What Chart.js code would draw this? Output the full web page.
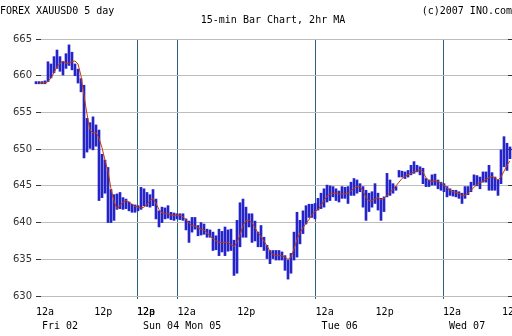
<!DOCTYPE html>
<html>
<head>
<meta charset="utf-8">
<script src="https://cdn.jsdelivr.net/npm/chart.js@4.4.1/dist/chart.umd.min.js"></script>
<style>
  html, body { margin: 0; padding: 0; background: #fff; }
  canvas { display: block; background: #fff; }
</style>
</head>
<body>
<canvas id="myChart" width="512" height="336"></canvas>
<script>
// one slot = three 15-min bars merged into a single high/low range
const lows = [
  658.9, 658.9, 658.9, 658.9, 659.2, 659.7, 660.4, 661.0, 660.6, 660.1,
  661.0, 661.4, 660.8, 660.0, 659.0, 657.8, 648.8, 649.6, 650.1, 649.9,
  650.4, 643.0, 643.4, 644.0, 640.0, 640.0, 640.3, 641.8, 641.9, 641.8,
  641.9, 641.6, 641.4, 641.4, 641.6, 641.8, 642.3, 642.2, 642.1, 642.3,
  640.5, 639.4, 640.0, 640.5, 640.6, 640.4, 640.3, 640.5, 640.4, 640.3,
  639.0, 637.3, 638.7, 639.1, 638.2, 638.3, 638.4, 638.0, 638.0, 636.2,
  636.3, 635.5, 636.0, 635.5, 636.1, 636.2, 632.8, 633.1, 636.7, 638.0,
  638.0, 639.4, 637.3, 637.5, 636.7, 636.7, 636.2, 635.1, 634.4, 635.1,
  634.9, 634.9, 634.9, 633.5, 632.3, 633.1, 634.9, 635.3, 637.1, 638.5,
  639.8, 640.7, 640.7, 640.5, 641.7, 641.9, 642.1, 642.8, 643.0, 643.5,
  643.0, 642.8, 643.3, 643.3, 642.6, 643.7, 643.7, 644.0, 644.2, 642.1,
  640.3, 641.5, 642.1, 642.6, 641.7, 640.3, 641.5, 643.5, 643.7, 644.0,
  644.4, 646.2, 646.2, 646.0, 646.2, 646.5, 646.7, 646.9, 646.5, 645.3,
  644.9, 644.9, 645.1, 645.1, 644.6, 644.4, 644.2, 643.5, 643.7, 643.6,
  643.5, 643.3, 642.6, 643.3, 643.8, 644.2, 645.1, 645.0, 644.6, 645.5,
  645.5, 644.4, 644.4, 644.4, 643.7, 645.3, 647.6, 647.1, 648.7,
];
const highs = [
  659.2, 659.2, 659.2, 659.3, 661.9, 661.6, 662.6, 663.5, 662.6, 661.9,
  663.0, 664.2, 663.2, 661.6, 660.9, 659.6, 658.7, 654.2, 653.6, 654.4,
  653.3, 652.6, 649.3, 648.5, 647.5, 644.5, 643.8, 643.9, 644.1, 643.4,
  643.2, 642.8, 642.5, 642.4, 642.3, 644.8, 644.6, 644.1, 643.8, 644.5,
  643.2, 641.6, 642.1, 642.0, 642.3, 641.4, 641.3, 641.2, 641.2, 641.2,
  640.5, 640.2, 640.7, 640.7, 639.6, 640.0, 639.8, 639.1, 639.0, 638.7,
  638.2, 639.1, 638.8, 639.4, 639.0, 639.1, 637.6, 640.3, 642.7, 643.2,
  642.1, 641.2, 641.2, 640.2, 638.7, 639.6, 638.0, 636.9, 636.2, 636.2,
  636.2, 636.2, 636.0, 635.5, 634.9, 635.8, 638.7, 641.4, 640.3, 641.6,
  642.3, 642.5, 642.5, 642.6, 643.3, 644.0, 644.6, 645.1, 645.0, 644.9,
  644.6, 644.3, 644.9, 644.8, 644.9, 645.5, 646.0, 645.8, 645.3, 644.9,
  644.4, 644.0, 644.2, 645.3, 644.0, 643.3, 643.5, 646.7, 645.8, 645.3,
  644.9, 647.1, 647.0, 646.9, 647.1, 647.8, 648.3, 647.8, 647.6, 647.4,
  646.0, 645.8, 646.5, 646.6, 645.8, 645.5, 645.3, 644.9, 644.6, 644.4,
  644.4, 644.2, 644.0, 644.9, 644.9, 645.5, 646.5, 646.4, 646.2, 646.9,
  646.9, 647.8, 646.8, 646.2, 645.8, 649.9, 651.7, 650.8, 650.3,
];
// 2hr moving average
const maValues = [
  659.0, 659.0, 659.0, 659.0, 659.2, 659.7, 660.4, 661.2, 661.7, 662.0,
  661.7, 661.7, 661.9, 662.0, 661.6, 660.0, 657.3, 654.8, 652.6, 652.2,
  652.3, 651.5, 650.2, 648.5, 647.0, 644.6, 642.9, 641.9, 642.3, 642.8,
  643.0, 642.8, 642.5, 642.2, 642.1, 642.0, 642.1, 642.5, 643.0, 643.3,
  642.6, 641.8, 641.3, 641.2, 641.2, 641.0, 641.0, 641.0, 641.0, 640.8,
  640.4, 639.9, 639.6, 639.5, 639.3, 639.1, 639.0, 638.6, 638.2, 637.8,
  637.5, 637.3, 637.3, 637.3, 637.3, 637.0, 636.7, 637.3, 638.3, 639.6,
  640.3, 640.3, 640.0, 639.3, 638.6, 638.1, 637.5, 636.8, 636.1, 635.6,
  635.5, 635.5, 635.5, 635.3, 635.0, 635.3, 636.4, 637.7, 638.6, 639.3,
  639.9, 640.4, 641.1, 641.5, 641.8, 642.3, 643.0, 643.6, 643.9, 644.0,
  644.0, 643.9, 643.9, 643.9, 644.0, 644.3, 644.7, 644.9, 644.9, 644.3,
  643.4, 643.0, 643.0, 643.2, 643.4, 643.1, 643.3, 643.7, 644.1, 644.5,
  645.0, 645.5, 646.0, 646.3, 646.5, 646.7, 646.9, 647.0, 647.2, 646.9,
  646.1, 645.7, 645.6, 645.7, 645.6, 645.4, 645.1, 644.7, 644.4, 644.2,
  644.1, 644.0, 643.7, 643.7, 644.0, 644.4, 644.8, 645.2, 645.4, 645.6,
  645.9, 646.1, 646.3, 646.1, 645.8, 646.2, 647.0, 647.8, 648.4,
];

// time ticks, in slots (market is shut over the weekend, so Sun 12a and 12p share a slot)
const tickSlots = [0, 19.4, 33.67, 33.67, 47.2, 67.1, 93.2, 113.2, 135.67, 155.33];
const tickLabels = ['12a', '12p', '12p', '12a', '12a', '12p', '12a', '12p', '12a', '12p'];
const dayLabels = ['Fri 02', '', '', 'Sun 04 Mon 05', '', '', 'Tue 06', '', 'Wed 07', ''];
const dayBreaks = [33.67, 47.2, 93.2, 135.67];

const MONO = '"DejaVu Sans Mono", monospace';
const ctx = document.getElementById('myChart').getContext('2d');

const headerText = {
  id: 'headerText',
  afterDraw(chart) {
    const c = chart.ctx;
    c.save();
    c.font = '10px ' + MONO;
    c.fillStyle = '#000';
    c.textBaseline = 'middle';
    c.textAlign = 'left';
    c.fillText('FOREX XAUUSD0 5 day', 0, 11);
    c.textAlign = 'center';
    c.fillText('15-min Bar Chart, 2hr MA', 273, 20);
    c.textAlign = 'right';
    c.fillText('(c)2007 INO.com', 512, 11);
    c.restore();
  },
};

const dayLine = (c) => (dayBreaks.includes(c.tick && c.tick.value) ? '#2b5f7f' : 'rgba(0,0,0,0)');

// labels hang past both ends of the plot; keep them from squeezing the chart area
const noPadding = (scale) => {
  scale.paddingLeft = 0;
  scale.paddingRight = 0;
};

const myChart = new Chart(ctx, {
  type: 'bar',
  data: {
    datasets: [
      {
        type: 'line',
        label: '2hr MA',
        data: maValues.map((v, i) => ({ x: i, y: v })),
        borderColor: '#c43c00',
        borderWidth: 1,
        pointRadius: 0,
        tension: 0,
        clip: false,
        order: 1,
      },
      {
        label: 'XAUUSD0',
        data: lows.map((lo, i) => ({ x: i, y: [lo, highs[i]] })),
        backgroundColor: '#2424c8',
        borderWidth: 0,
        barThickness: 2,
        clip: false,
        order: 2,
      },
    ],
  },
  options: {
    responsive: false,
    animation: false,
    devicePixelRatio: 1,
    layout: { padding: { top: 39, left: 0, right: 0, bottom: 0 } },
    plugins: { legend: { display: false }, tooltip: { enabled: false } },
    scales: {
      x: {
        type: 'linear',
        offset: false,
        bounds: 'data',
        // 3 px per slot, slot 0 sits just left of the plot
        min: 1.6667,
        max: 157.3333,
        afterBuildTicks: (scale) => {
          scale.ticks = tickSlots.map((v) => ({ value: v }));
        },
        afterFit: (scale) => {
          scale.height = 40;
          noPadding(scale);
        },
        border: { display: false },
        grid: {
          offset: false,
          color: dayLine,
          tickColor: dayLine,
          tickLength: 3,
          lineWidth: 1,
        },
        ticks: {
          autoSkip: false,
          maxRotation: 0,
          minRotation: 0,
          align: 'start',
          padding: 6,
          color: '#000',
          font: { family: MONO, size: 10, lineHeight: 1.4 },
          callback: (value, index) => (dayLabels[index]
            ? [tickLabels[index], '\u00a0' + dayLabels[index]]
            : tickLabels[index]),
        },
      },
      y: {
        position: 'left',
        min: 630,
        max: 665,
        afterFit: (scale) => { scale.width = 41; },
        border: { display: false },
        grid: { color: '#bdbdbd', tickColor: '#333', tickLength: 5 },
        ticks: {
          stepSize: 5,
          padding: 4,
          color: '#333',
          font: { family: '"DejaVu Sans", Verdana, sans-serif', size: 10 },
        },
      },
      y2: {
        position: 'right',
        min: 630,
        max: 665,
        afterFit: (scale) => { scale.width = 4; },
        border: { display: false },
        grid: { drawOnChartArea: false, tickColor: '#333', tickLength: 4 },
        ticks: { stepSize: 5, display: false },
      },
    },
  },
  plugins: [headerText],
});
</script>
</body>
</html>
